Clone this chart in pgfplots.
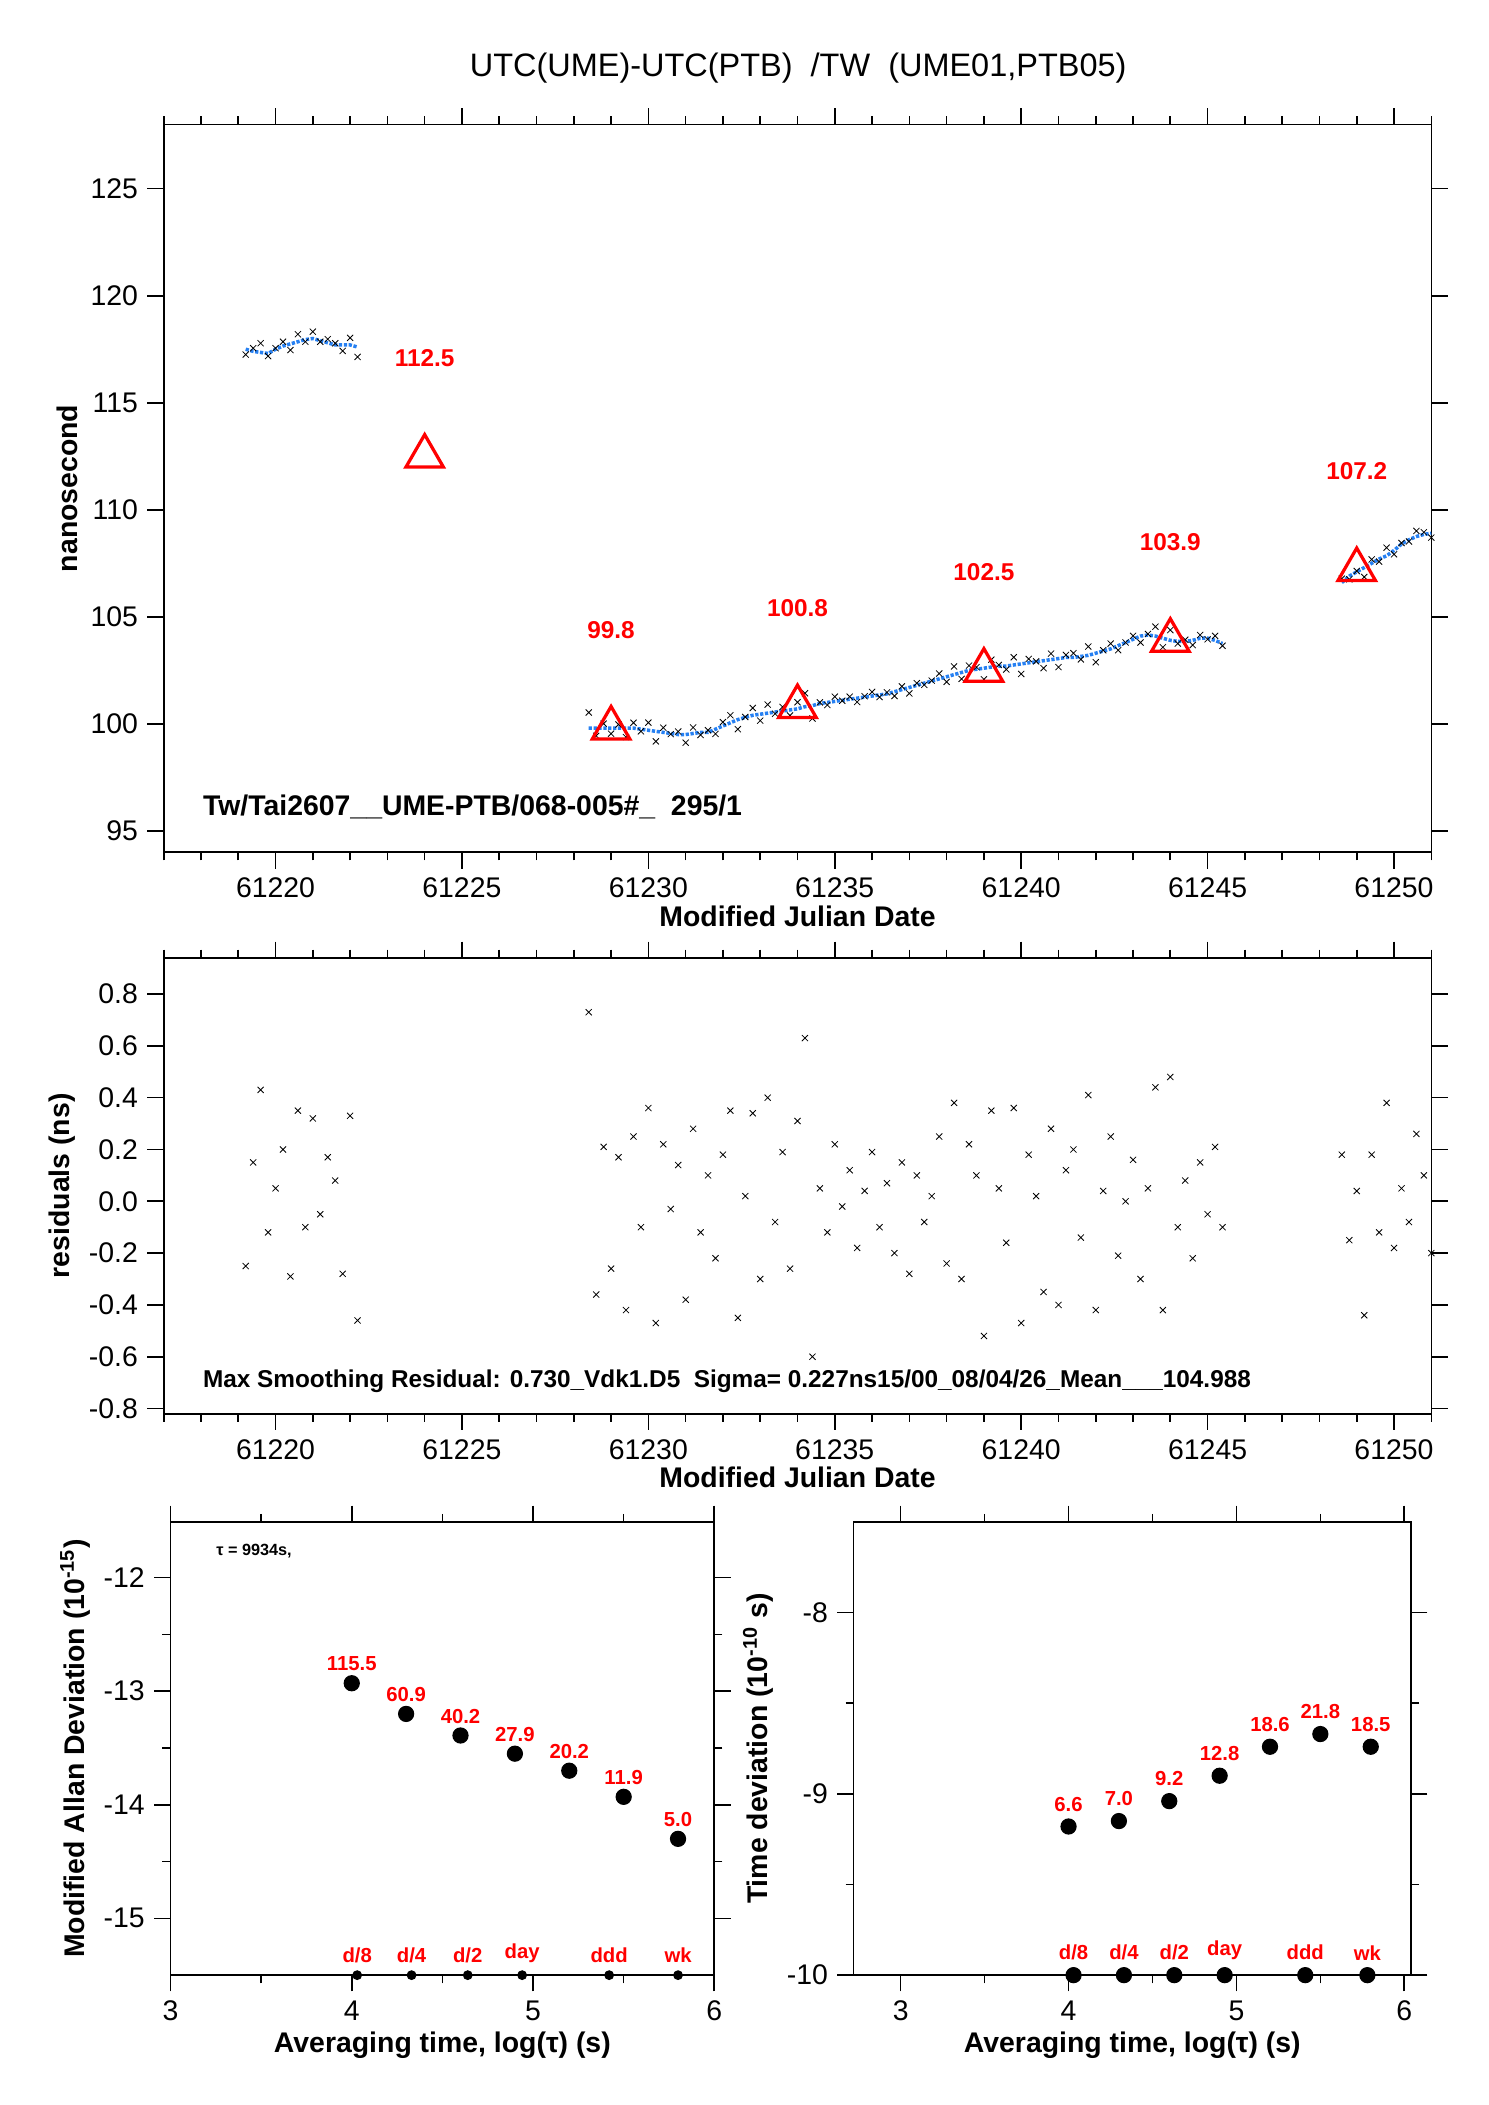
\documentclass[border=0pt]{standalone}
\usepackage{pgfplots}
\pgfplotsset{compat=1.18}
\usepackage{pgfplotstable}
\usepackage{fontspec}
\setmainfont{Liberation Sans}
\definecolor{bl}{rgb}{0.15,0.5,0.95}
\pgfplotstableread{
x t r
61219.2 117.5 -0.25
61219.4 117.4 0.15
61219.6 117.35 0.43
61219.8 117.3 -0.12
61220.0 117.5 0.05
61220.2 117.65 0.20
61220.4 117.75 -0.29
61220.6 117.85 0.35
61220.8 117.95 -0.10
61221.0 118.0 0.32
61221.2 117.9 -0.05
61221.4 117.8 0.17
61221.6 117.7 0.08
61221.8 117.7 -0.28
61222.0 117.7 0.33
61222.2 117.6 -0.46
}\segA
\pgfplotstableread{
x t r
61228.4 99.8 0.73
61228.6 99.8 -0.36
61228.8 99.8 0.21
61229.0 99.8 -0.26
61229.2 99.8 0.17
61229.4 99.8 -0.42
61229.6 99.8 0.25
61229.8 99.75 -0.10
61230.0 99.7 0.36
61230.2 99.65 -0.47
61230.4 99.6 0.22
61230.6 99.55 -0.03
61230.8 99.5 0.14
61231.0 99.5 -0.38
61231.2 99.55 0.28
61231.4 99.6 -0.12
61231.6 99.6 0.10
61231.8 99.75 -0.22
61232.0 99.9 0.18
61232.2 100.05 0.35
61232.4 100.2 -0.45
61232.6 100.3 0.02
61232.8 100.4 0.34
61233.0 100.45 -0.30
61233.2 100.5 0.40
61233.4 100.55 -0.08
61233.6 100.6 0.19
61233.8 100.65 -0.26
61234.0 100.7 0.31
61234.2 100.8 0.63
61234.4 100.85 -0.60
61234.6 100.95 0.05
61234.8 101.0 -0.12
61235.0 101.05 0.22
61235.2 101.1 -0.02
61235.4 101.15 0.12
61235.6 101.2 -0.18
61235.8 101.25 0.04
61236.0 101.3 0.19
61236.2 101.35 -0.10
61236.4 101.4 0.07
61236.6 101.5 -0.20
61236.8 101.6 0.15
61237.0 101.7 -0.28
61237.2 101.8 0.10
61237.4 101.9 -0.08
61237.6 102.0 0.02
61237.8 102.1 0.25
61238.0 102.2 -0.24
61238.2 102.3 0.38
61238.4 102.4 -0.30
61238.6 102.5 0.22
61238.8 102.55 0.10
61239.0 102.6 -0.52
61239.2 102.65 0.35
61239.4 102.7 0.05
61239.6 102.7 -0.16
61239.8 102.75 0.36
61240.0 102.8 -0.47
61240.2 102.85 0.18
61240.4 102.9 0.02
61240.6 102.95 -0.35
61240.8 103.0 0.28
61241.0 103.05 -0.40
61241.2 103.1 0.12
61241.4 103.1 0.20
61241.6 103.15 -0.14
61241.8 103.2 0.41
61242.0 103.3 -0.42
61242.2 103.4 0.04
61242.4 103.5 0.25
61242.6 103.65 -0.21
61242.8 103.8 0.00
61243.0 103.95 0.16
61243.2 104.1 -0.30
61243.4 104.15 0.05
61243.6 104.1 0.44
61243.8 104.0 -0.42
61244.0 103.9 0.48
61244.2 103.85 -0.10
61244.4 103.85 0.08
61244.6 103.9 -0.22
61244.8 104.0 0.15
61245.0 104.0 -0.05
61245.2 103.9 0.21
61245.4 103.75 -0.10
}\segB
\pgfplotstableread{
x t r
61248.6 106.6 0.18
61248.8 106.9 -0.15
61249.0 107.1 0.04
61249.2 107.3 -0.44
61249.4 107.5 0.18
61249.6 107.7 -0.12
61249.8 107.85 0.38
61250.0 108.1 -0.18
61250.2 108.4 0.05
61250.4 108.6 -0.08
61250.6 108.75 0.26
61250.8 108.85 0.10
61251.0 108.9 -0.20
}\segC
\pgfplotsset{every axis/.append style={scale only axis, tick align=outside,
  major tick length=6pt, minor tick length=3pt, tick style={black, line width=0.6pt},
  axis line style={line width=0.6pt},
  /pgf/number format/assume math mode=true, /pgf/number format/1000 sep={},
  tick label style={font=\fontsize{10.5}{12}\selectfont},
  label style={font=\bfseries\fontsize{10.5}{12}\selectfont}},
  xm/.style={only marks, mark=x, mark size=1.6pt, black, line width=0.3pt},
  bline/.style={bl, line width=1.3pt, dash pattern=on 1.2pt off 0.6pt},
  mjd/.style={xmin=61217, xmax=61251, scaled x ticks=false,
   xtick={61220,61225,...,61250}, minor xtick={61217,...,61251},
   xticklabel style={/pgf/number format/.cd, fixed, precision=0, 1000 sep={}},
   xlabel={Modified Julian Date}, xlabel style={yshift=4pt}}}
\begin{document}
\begin{tikzpicture}
\path (0,0) rectangle (550pt,-778pt);
\node[font=\fontsize{12}{14}\selectfont] at (295pt,-25pt) {UTC(UME)-UTC(PTB)\ \ /TW\ \ (UME01,PTB05)};
% top
\begin{axis}[at={(60.5pt,-46pt)}, anchor=north west, width=468.5pt, height=269pt, mjd,
  ymin=94, ymax=128, ytick={95,100,...,125}, minor y tick num=0,
  ylabel={nanosecond}, ylabel style={yshift=-2pt}]
\addplot[xm] table[x=x, y expr=\thisrow{t}+\thisrow{r}] {\segA};
\addplot[bline] table[x=x, y=t] {\segA};
\addplot[xm] table[x=x, y expr=\thisrow{t}+\thisrow{r}] {\segB};
\addplot[bline] table[x=x, y=t] {\segB};
\addplot[xm] table[x=x, y expr=\thisrow{t}+\thisrow{r}] {\segC};
\addplot[bline] table[x=x, y=t] {\segC};
\addplot[only marks, red, mark=triangle, mark size=8pt, line width=1.2pt] coordinates {(61224,112.5)(61229,99.8)(61234,100.8)(61239,102.5)(61244,103.9)(61249,107.2)};
\foreach \xx/\yy in {61224/112.5,61229/99.8,61234/100.8,61239/102.5,61244/103.9,61249/107.2}{
 \edef\tmp{\noexpand\node[red, font=\noexpand\bfseries\noexpand\fontsize{9}{10}\noexpand\selectfont] at (axis cs:\xx,\yy+4.6) {\yy};}\tmp
}
\node[anchor=west, font=\bfseries\fontsize{10.5}{12}\selectfont] at (axis cs:61217.8,96.1) {Tw/Tai2607\_\_UME-PTB/068-005\#\_\ \ 295/1};
\end{axis}
% middle
\begin{axis}[at={(60.5pt,-354pt)}, anchor=north west, width=468.5pt, height=168.5pt, mjd,
  ymin=-0.82, ymax=0.94, ytick={-0.8,-0.6,...,0.81}, minor y tick num=0,
  yticklabel style={/pgf/number format/.cd, fixed, precision=1, zerofill},
  ylabel={residuals (ns)}, ylabel style={yshift=-2pt}]
\addplot[xm] table[x=x, y=r] {\segA};
\addplot[xm] table[x=x, y=r] {\segB};
\addplot[xm] table[x=x, y=r] {\segC};
\node[anchor=west, font=\bfseries\fontsize{9}{10}\selectfont] at (axis cs:61217.8,-0.695) {Max Smoothing Residual: 0.730\_Vdk1.D5\ \ Sigma= 0.227ns15/00\_08/04/26\_Mean\_\_\_104.988};
\end{axis}
% bottom left
\begin{axis}[at={(63pt,-562.5pt)}, anchor=north west, width=201pt, height=167.5pt,
  xmin=3, xmax=6, ymin=-15.5, ymax=-11.51,
  xtick={3,4,5,6}, minor x tick num=1, ytick={-15,-14,-13,-12}, minor y tick num=1,
  xlabel={Averaging time, log(τ) (s)}, ylabel={Modified Allan Deviation (10\textsuperscript{-15})},
  ylabel style={yshift=-2pt}, xlabel style={yshift=3pt},
  nodes near coords, point meta=explicit symbolic,
  every node near coord/.style={red, font=\bfseries\fontsize{7.5}{8}\selectfont, anchor=south, yshift=1pt}]
\addplot[only marks, mark=*, mark size=2.8pt, black] coordinates {(4,-12.93)[115.5](4.3,-13.2)[60.9](4.6,-13.39)[40.2](4.9,-13.55)[27.9](5.2,-13.7)[20.2](5.5,-13.93)[11.9](5.8,-14.3)[5.0]};
\addplot[only marks, mark=*, mark size=1.6pt, black] coordinates {(4.03,-15.5)[d/8](4.33,-15.5)[d/4](4.64,-15.5)[d/2](4.94,-15.5)[day](5.42,-15.5)[ddd](5.8,-15.5)[wk]};
\node[anchor=west, font=\bfseries\fontsize{6}{7}\selectfont] at (axis cs:3.2,-11.77) {τ = 9934s,};
\end{axis}
% bottom right
\begin{axis}[at={(315.5pt,-562.5pt)}, anchor=north west, width=206pt, height=167.5pt,
  xmin=2.72, xmax=6.04, ymin=-10, ymax=-7.5,
  xtick={3,4,5,6}, minor x tick num=1, ytick={-10,-9,-8}, minor y tick num=1,
  xlabel={Averaging time, log(τ) (s)}, ylabel={Time deviation (10\textsuperscript{-10} s)},
  ylabel style={yshift=-2pt}, xlabel style={yshift=3pt}, clip=false,
  nodes near coords, point meta=explicit symbolic,
  every node near coord/.style={red, font=\bfseries\fontsize{7.5}{8}\selectfont, anchor=south, yshift=2pt}]
\addplot[only marks, mark=*, mark size=2.8pt, black] coordinates {(4,-9.18)[6.6](4.3,-9.15)[7.0](4.6,-9.04)[9.2](4.9,-8.9)[12.8](5.2,-8.74)[18.6](5.5,-8.67)[21.8](5.8,-8.74)[18.5]};
\addplot[only marks, mark=*, mark size=2.8pt, black] coordinates {(4.03,-10)[d/8](4.33,-10)[d/4](4.63,-10)[d/2](4.93,-10)[day](5.41,-10)[ddd](5.78,-10)[wk]};
\end{axis}
\end{tikzpicture}
\end{document}
